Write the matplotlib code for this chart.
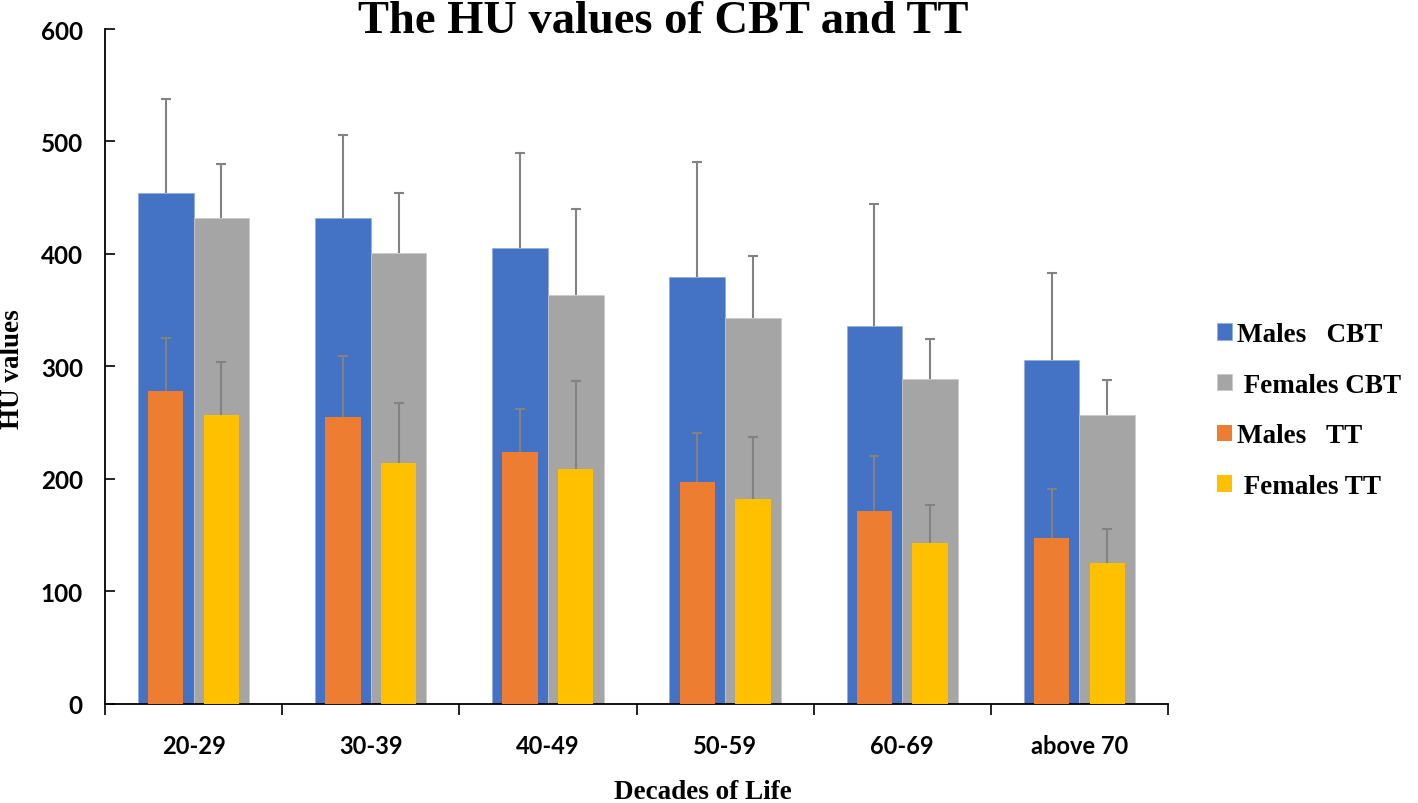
import matplotlib
matplotlib.use("Agg")
import matplotlib.pyplot as plt
import numpy as np

categories = ["20-29", "30-39", "40-49", "50-59", "60-69", "above 70"]
males_cbt = [454, 432, 405, 379, 336, 306]
males_cbt_sd = [84, 74, 85, 103, 108, 77]
females_cbt = [432, 401, 363, 343, 289, 257]
females_cbt_sd = [48, 53, 77, 55, 35, 31]
males_tt = [278, 255, 224, 197, 171, 147]
males_tt_sd = [47, 54, 38, 44, 49, 44]
females_tt = [257, 214, 209, 182, 143, 125]
females_tt_sd = [47, 53, 78, 55, 34, 30]
y_ticks = [0, 100, 200, 300, 400, 500, 600]

C_BLUE = "#4472C4"
C_GRAY = "#A5A5A5"
C_ORANGE = "#ED7D31"
C_YELLOW = "#FFC000"
C_ERR = "#828282"

SERIF = "Liberation Serif"
SANS = "Lato"

fig = plt.figure(figsize=(14.18, 8.04), dpi=100)
ax = fig.add_axes([105/1418, 1-704.5/804, (1168-105)/1418, (704.5-30)/804])

x = np.arange(len(categories))
off = 0.157
wide = 0.314
narrow = 0.2
cap = 3.6

def upper_err(xpos, vals, sd, z):
    eb = ax.errorbar(xpos, vals, yerr=[np.zeros(len(sd)), sd], fmt="none", capsize=cap,
                     ecolor=C_ERR, elinewidth=1.5, capthick=1.5, zorder=z)
    eb[1][0].set_visible(False)  # hide lower cap at bar top
    return eb

b1 = ax.bar(x - off, males_cbt, wide, color=C_BLUE, edgecolor="#8FAADC", linewidth=0.5, zorder=2, label="Males   CBT")
b2 = ax.bar(x + off, females_cbt, wide, color=C_GRAY, edgecolor="#C9C9C9", linewidth=0.5, zorder=2, label=" Females CBT")
upper_err(x - off, males_cbt, males_cbt_sd, 3)
upper_err(x + off, females_cbt, females_cbt_sd, 3)
b3 = ax.bar(x - off, males_tt, narrow, color=C_ORANGE, zorder=4, label="Males   TT")
b4 = ax.bar(x + off, females_tt, narrow, color=C_YELLOW, zorder=4, label=" Females TT")
upper_err(x - off, males_tt, males_tt_sd, 5)
upper_err(x + off, females_tt, females_tt_sd, 5)

ax.set_xlim(-0.5, len(categories) - 0.5)
ax.set_ylim(0, 600)
ax.set_yticks(y_ticks)
ax.set_yticklabels([str(v) for v in y_ticks], fontfamily=SANS, fontweight="bold", fontsize=17.5)
ax.set_xticks(x)
ax.set_xticklabels(categories, fontfamily=SANS, fontweight="bold", fontsize=17)
ax.set_xticks(np.arange(-0.5, len(categories), 1.0), minor=True)
ax.tick_params(axis="x", which="major", length=0, pad=22)
ax.tick_params(axis="x", which="minor", length=8, width=1.2, direction="out")
ax.tick_params(axis="y", length=7, width=1.2, direction="in", pad=16)
for s in ["top", "right"]:
    ax.spines[s].set_visible(False)
ax.spines["left"].set_linewidth(1.3)
ax.spines["bottom"].set_linewidth(1.3)

fig.text(663/1418, 1-33/804, "The HU values of CBT and TT", fontfamily=SERIF, fontweight="bold",
         fontsize=33.5, ha="center", va="baseline")
fig.text(703/1418, 1-793/804, "Decades of Life", fontfamily=SERIF, fontweight="bold",
         fontsize=19.5, ha="center", va="center")
fig.text(13/1418, 1-369/804, "HU values", fontfamily=SERIF, fontweight="bold",
         fontsize=19.5, ha="center", va="center", rotation=90)

leg = ax.legend(handles=[b1, b2, b3, b4], loc="upper left", bbox_to_anchor=(1217/1418, 1-323/804),
                bbox_transform=fig.transFigure, frameon=False,
                prop=dict(family=SERIF, weight="bold", size=19.5),
                handlelength=0.55, handleheight=0.55, handletextpad=0.2, labelspacing=0.95,
                borderaxespad=0, borderpad=0)

fig.savefig("out.png", dpi=100)
